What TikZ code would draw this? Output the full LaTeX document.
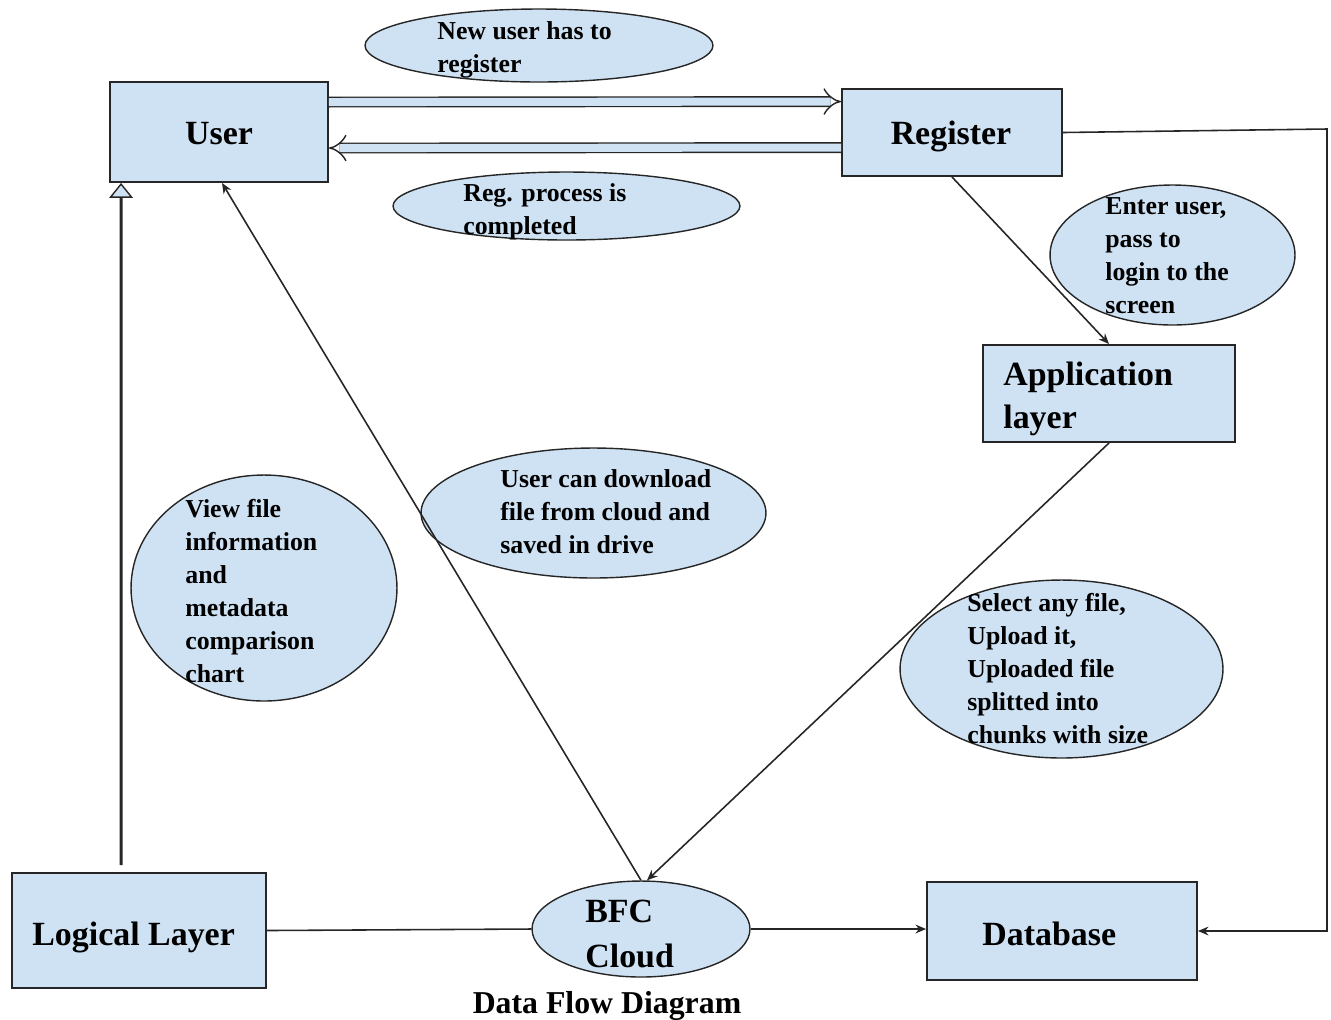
\documentclass[tikz,border=0pt]{standalone}
\usepackage{fontspec}
\setmainfont{Liberation Serif}
\usetikzlibrary{arrows.meta,shapes.geometric,calc}
\definecolor{boxfill}{HTML}{CFE2F3}
\definecolor{edge}{HTML}{262626}

\begin{document}
\begin{tikzpicture}[x=0.02cm,y=-0.02cm,
  box/.style={draw=edge,line width=1.1pt,fill=boxfill,rectangle,inner sep=0pt},
  bubble/.style={draw=edge,line width=0.8pt,fill=boxfill,ellipse,inner sep=0pt},
  bigtext/.style={anchor=base west,inner sep=0pt,align=left,font=\fontsize{19.3}{24.4}\selectfont\bfseries},
  cloudtext/.style={anchor=base west,inner sep=0pt,align=left,font=\fontsize{19.3}{25.5}\selectfont\bfseries},
  smalltext/.style={anchor=base west,inner sep=0pt,align=left,font=\fontsize{14.7}{18.7}\selectfont\bfseries},
  flow/.style={draw=edge,line width=0.9pt,-{Stealth[length=6pt,width=5pt]}},
  plainline/.style={draw=edge,line width=0.9pt},
  dbl/.style={draw=edge,line width=0.8pt,double=boxfill,double distance=4.6pt,-{Implies}},
]
\useasboundingbox (0,0) rectangle (1331,1019);

% process boxes
\node[box,minimum width=4.36cm,minimum height=2.0cm]  (user)    at (219,132)   {};
\node[box,minimum width=4.4cm,minimum height=1.74cm]  (reg)     at (952,132.5) {};
\node[box,minimum width=5.04cm,minimum height=1.94cm] (app)     at (1109,393.5) {};
\node[box,minimum width=5.08cm,minimum height=2.3cm]  (logical) at (139,930.5) {};
\node[box,minimum width=5.4cm,minimum height=1.96cm]  (db)      at (1062,931)  {};

% annotation bubbles and the cloud
\node[bubble,minimum width=6.96cm,minimum height=1.46cm] (newbub)  at (539,45.5)  {};
\node[bubble,minimum width=6.94cm,minimum height=1.36cm] (regbub)  at (566.5,206) {};
\node[bubble,minimum width=4.9cm,minimum height=2.8cm]   (loginbub) at (1172.5,255) {};
\node[bubble,minimum width=6.9cm,minimum height=2.6cm]   (dlbub)   at (593.5,513) {};
\node[bubble,minimum width=5.32cm,minimum height=4.52cm] (viewbub) at (264,588)   {};
\node[bubble,minimum width=6.46cm,minimum height=3.56cm] (upbub)   at (1061.5,669) {};
\node[bubble,minimum width=4.36cm,minimum height=1.92cm] (bfc)     at (641,929)   {};

% labels (multi-line labels sit on the baseline of their last line)
\node[bigtext,anchor=base] (tuser) at (219,144) {User};
\node[bigtext,anchor=base] (treg)  at (951,144) {Register};
\node[bigtext] (tapp) at (1003,428) {Application\\layer};
\node[bigtext] (tlog) at (32,945) {Logical Layer};
\node[bigtext] (tdb)  at (982,945) {Database};
\node[cloudtext] (tbfc) at (585,967) {BFC\\Cloud};

\node[smalltext] (tnew)   at (437,72)   {New user has to\\register};
\node[smalltext] (treg2)  at (463,234)  {Reg. process is\\completed};
\node[smalltext] (tlogin) at (1105,313) {Enter user,\\pass to\\login to the\\screen};
\node[smalltext] (tdl)    at (500,553)  {User can download\\file from cloud and\\saved in drive};
\node[smalltext] (tview)  at (185,682)  {View file\\information\\and\\metadata\\comparison\\chart};
\node[smalltext] (tup)    at (967,743)  {Select any file,\\Upload it,\\Uploaded file\\splitted into\\chunks with size};

\node[anchor=base,inner sep=0pt,font=\fontsize{18.1}{22}\selectfont\bfseries] (caption) at (607,1013) {Data Flow Diagram};

% connectors
\draw[dbl] ($(user.north east)+(0,21)$) -- ($(reg.north west)+(0,13.5)$);
\draw[dbl] ($(reg.north west)+(0,59.5)$) -- ($(user.north east)+(0,67)$);

\draw[draw=edge,line width=1.7pt,
  -{Triangle[length=8.5pt,width=13.5pt,fill=boxfill,line width=0.8pt]}]
  ($(logical.north west)+(110,-7)$) -- ($(user.south west)+(12,0)$);

\draw[flow] (bfc.north) -- ($(user.south)+(3,0)$);
\draw[flow] (reg.south) -- (app.north);
\draw[flow] (app.south) -- ($(bfc.north)+(6,0)$);
\draw[plainline] (logical.east) -- (bfc.west);
\draw[flow] (bfc.east) -- (bfc.east -| db.west);

\coordinate (rtop) at (1327,129);
\coordinate (rbot) at (1327,931);
\draw[flow] (reg.east) -- (rtop) -- (rbot) -- (db.east);
\end{tikzpicture}
\end{document}
